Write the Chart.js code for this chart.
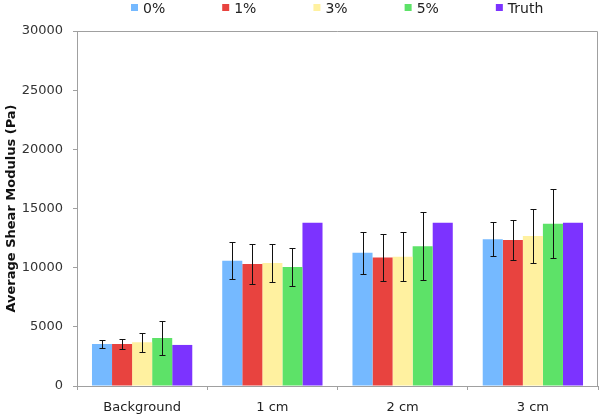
<!DOCTYPE html>
<html>
<head>
<meta charset="utf-8">
<script src="https://cdn.jsdelivr.net/npm/chart.js@4.4.0/dist/chart.umd.min.js"></script>
<style>
  body { margin: 0; background: #fff; }
  #wrap { width: 600px; height: 416px; }
</style>
</head>
<body>
<div id="wrap"><canvas id="myChart" width="600" height="416"></canvas></div>
<script>
let categories = ['Background', '1 cm', '2 cm', '3 cm'];
let series_names = ['0%', '1%', '3%', '5%', 'Truth'];

let vals_0 = [3550, 10590, 11270, 12400];
let vals_1 = [3550, 10310, 10850, 12340];
let vals_3 = [3690, 10400, 10930, 12680];
let vals_5 = [4060, 10060, 11810, 13720];
let vals_truth = [3470, 13800, 13800, 13800];

let err_0 = [350, 1560, 1770, 1450];
let err_1 = [460, 1700, 2000, 1650];
let err_3 = [800, 1630, 2050, 2260];
let err_5 = [1400, 1600, 2870, 2900];

let y_ticks = [0, 5000, 10000, 15000, 20000, 25000, 30000];

let colours = ['#75b9ff', '#e8433f', '#fff1a0', '#5de268', '#7c33ff'];

// error bars drawn on top of the bars
const errorBars = {
    id: 'errorBars',
    afterDatasetsDraw(chart) {
        const ctx = chart.ctx;
        const y = chart.scales.y;
        ctx.save();
        ctx.strokeStyle = '#111';
        ctx.lineWidth = 1;
        chart.data.datasets.forEach((ds, i) => {
            if (!ds.errors) return;
            chart.getDatasetMeta(i).data.forEach((bar, j) => {
                const v = ds.data[j], e = ds.errors[j];
                const x = Math.round(bar.x) + 0.5;
                const top = Math.round(y.getPixelForValue(v + e)) + 0.5;
                const bot = Math.round(y.getPixelForValue(v - e)) + 0.5;
                ctx.beginPath();
                ctx.moveTo(x, top); ctx.lineTo(x, bot);
                ctx.moveTo(x - 3, top); ctx.lineTo(x + 3, top);
                ctx.moveTo(x - 3, bot); ctx.lineTo(x + 3, bot);
                ctx.stroke();
            });
        });
        ctx.restore();
    }
};

// grey frame on top and right of the plot, plus the legend row
const frame = {
    id: 'frame',
    afterDraw(chart) {
        const a = chart.chartArea;
        const ctx = chart.ctx;
        ctx.save();
        ctx.strokeStyle = '#a0a0a0';
        ctx.lineWidth = 1;
        ctx.beginPath();
        ctx.moveTo(a.left, a.top + 0.5);
        ctx.lineTo(a.right - 0.5, a.top + 0.5);
        ctx.lineTo(a.right - 0.5, a.bottom);
        ctx.stroke();

        // legend
        ctx.font = '14px "DejaVu Sans"';
        ctx.textBaseline = 'middle';
        const box = 7, gap = 5, space = 57;
        const widths = series_names.map(n => box + gap + ctx.measureText(n).width);
        const total = widths.reduce((s, w) => s + w, 0) + space * (widths.length - 1);
        let x = Math.round((a.left + a.right) / 2 - total / 2);
        series_names.forEach((n, i) => {
            ctx.fillStyle = colours[i];
            ctx.fillRect(x, 4, box, box);
            ctx.fillStyle = '#222';
            ctx.fillText(n, x + box + gap, 9);
            x += widths[i] + space;
        });
        ctx.restore();
    }
};

function myChart() {
    let ctx = document.getElementById('myChart').getContext('2d');
    let data_sets = [vals_0, vals_1, vals_3, vals_5, vals_truth];
    let errs = [err_0, err_1, err_3, err_5, null];
    new Chart(ctx, {
        type: 'bar',
        data: {
            labels: categories,
            datasets: series_names.map((n, i) => ({
                label: n,
                data: data_sets[i],
                errors: errs[i],
                backgroundColor: colours[i],
                borderWidth: 0,
                barPercentage: 1,
                categoryPercentage: 0.77
            }))
        },
        options: {
            responsive: false,
            animation: false,
            layout: { padding: { top: 31, right: 2, left: 4, bottom: 0 } },
            plugins: {
                legend: { display: false },
                tooltip: { enabled: false }
            },
            scales: {
                x: {
                    afterFit: axis => { axis.height = 30; },
                    grid: { display: true, drawOnChartArea: false, drawTicks: true, tickLength: 4, color: '#a0a0a0' },
                    border: { color: '#a0a0a0' },
                    ticks: { color: '#222', padding: 10, font: { family: 'DejaVu Sans', size: 13 } }
                },
                y: {
                    min: 0,
                    max: 30000,
                    afterFit: axis => { axis.width = 73; },
                    afterBuildTicks: axis => { axis.ticks = y_ticks.map(v => ({ value: v })); },
                    grid: { display: true, drawOnChartArea: false, drawTicks: true, tickLength: 4, color: '#a0a0a0' },
                    border: { color: '#a0a0a0' },
                    ticks: {
                        color: '#333',
                        padding: 10,
                        font: { family: 'DejaVu Sans', size: 13 },
                        callback: v => String(v)
                    },
                    title: {
                        display: true,
                        text: 'Average Shear Modulus (Pa)',
                        color: '#111',
                        font: { family: 'DejaVu Sans', size: 13, weight: 'bold' },
                        padding: { top: 0, bottom: 4 }
                    }
                }
            }
        },
        plugins: [errorBars, frame]
    });
}
myChart()
</script>
</body>
</html>
